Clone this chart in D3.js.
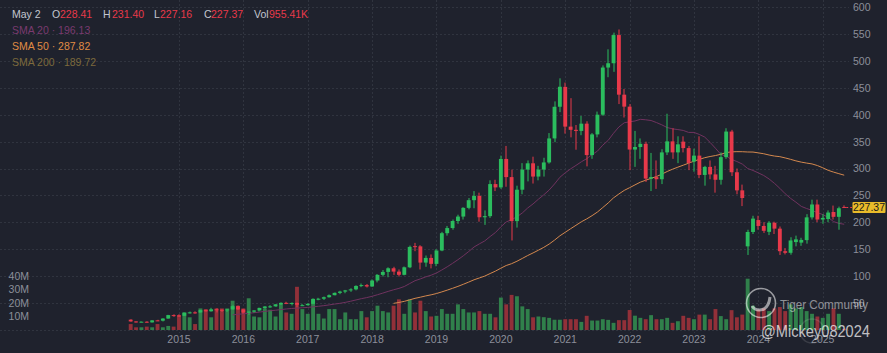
<!DOCTYPE html>
<html>
<head>
<meta charset="utf-8">
<script src="https://cdn.jsdelivr.net/npm/d3@7"></script>
<style>
  html, body { margin: 0; padding: 0; background: #1f222d; }
  svg { display: block; }
</style>
</head>
<body>
<script>
// Monthly bars, Apr 2014 .. May 2025
const open = [
  // 2014 Apr-Dec
  18.5, 15.2, 14.0, 14.7, 13.4, 17.2, 16.6, 20.6, 27.0,
  // 2015
  26.3, 25.7, 31.4, 32.1, 31.9, 36.2, 34.1, 37.8, 37.0, 35.9, 37.6, 43.6,
  // 2016
  37.6, 31.8, 33.4, 35.6, 40.3, 43.0, 43.3, 47.1, 49.8, 48.8, 49.6, 44.9,
  // 2017
  45.5, 47.9, 57.2, 57.5, 60.3, 64.1, 68.4, 70.8, 73.0, 74.9, 81.3, 82.9,
  // 2018
  80.3, 91.4, 101.9, 107.4, 114.2, 108.0, 102.0, 116.0, 155.4, 155.0, 124.8, 133.5,
  // 2019
  122.4, 147.3, 179.5, 189.1, 202.2, 210.5, 226.7, 241.0, 249.0, 209.2, 211.3, 271.0,
  // 2020
  264.8, 317.8, 284.0, 202.0, 260.5, 298.0, 309.7, 285.0, 298.0, 311.3, 356.0, 415.0,
  // 2021
  452.0, 378.0, 372.0, 370.0, 383.5, 325.0, 363.5, 400.2, 488.0, 496.0, 548.5, 437.5,
  // 2022
  415.2, 335.3, 340.0, 346.0, 281.2, 284.0, 280.0, 330.0, 350.5, 330.0, 350.0, 338.0,
  // 2023
  313.0, 324.0, 288.0, 303.0, 289.0, 279.0, 321.2, 368.8, 293.0, 259.3, 155.0, 181.8,
  // 2024
  204.0, 193.0, 182.0, 199.0, 188.0, 146.0, 143.0, 163.0, 162.0, 166.6, 209.0, 233.0,
  // 2025 Jan-May
  205.0, 206.0, 219.0, 210.0, 228.41
];

const high = [
  19.4, 15.6, 15.4, 15.6, 17.6, 18.3, 21.2, 27.5, 28.5,
  28.6, 31.9, 33.7, 34.0, 36.8, 37.1, 40.6, 39.8, 37.6, 38.4, 45.5, 44.8,
  38.2, 34.2, 36.2, 41.0, 43.8, 45.6, 47.6, 50.7, 51.9, 50.6, 50.3, 47.9,
  49.6, 58.2, 59.2, 61.6, 65.5, 69.3, 72.4, 73.9, 77.0, 82.5, 85.8, 84.9,
  93.5, 103.5, 111.0, 116.0, 117.0, 112.0, 117.5, 156.5, 161.5, 157.2, 138.0, 140.0,
  150.0, 182.0, 193.0, 205.0, 214.0, 228.0, 245.0, 258.0, 255.0, 222.0, 278.0, 279.0,
  324.0, 342.0, 298.0, 268.0, 310.0, 315.0, 322.0, 305.0, 320.0, 366.0, 425.0, 468.0,
  460.0, 431.0, 381.0, 398.0, 388.0, 366.0, 406.0, 492.0, 522.0, 553.0, 558.9, 448.0,
  420.0, 370.0, 356.0, 350.0, 329.0, 315.0, 336.0, 402.0, 375.0, 360.0, 360.0, 342.0,
  337.0, 360.0, 305.0, 315.0, 305.0, 330.0, 375.0, 372.0, 300.0, 270.0, 186.0, 212.0,
  212.0, 200.0, 202.0, 201.0, 192.0, 152.0, 172.0, 175.0, 171.0, 215.0, 242.0, 242.0,
  215.0, 222.0, 231.0, 229.0, 231.40
];

const low = [
  14.6, 13.0, 13.5, 12.9, 13.1, 15.9, 15.2, 20.1, 23.8,
  24.0, 25.3, 29.8, 29.5, 31.5, 33.5, 33.4, 32.0, 33.0, 32.9, 37.2, 36.6,
  29.4, 27.3, 31.6, 33.7, 38.6, 40.4, 42.3, 45.9, 47.4, 45.2, 41.5, 43.8,
  44.6, 47.5, 54.6, 55.2, 59.6, 63.6, 66.0, 67.7, 70.3, 73.1, 79.1, 78.4,
  79.6, 88.0, 98.7, 97.5, 101.9, 98.8, 101.0, 114.5, 146.0, 112.0, 117.0, 114.0,
  118.0, 146.0, 175.0, 186.0, 197.0, 205.0, 224.0, 226.0, 201.0, 195.0, 208.0, 258.0,
  262.0, 266.0, 166.0, 190.0, 252.0, 276.0, 272.0, 278.0, 285.0, 309.0, 349.0, 405.0,
  365.0, 358.0, 335.0, 362.0, 304.0, 318.0, 358.0, 398.0, 470.0, 480.0, 420.0, 395.0,
  297.0, 303.0, 318.0, 275.0, 258.0, 262.0, 271.0, 325.0, 318.0, 310.0, 330.0, 297.0,
  294.0, 282.0, 268.0, 280.0, 255.0, 270.0, 318.0, 286.0, 252.0, 230.0, 139.0, 178.0,
  186.0, 180.0, 176.0, 178.0, 139.0, 140.0, 139.5, 155.0, 156.0, 160.0, 205.0, 200.0,
  197.0, 200.0, 205.0, 186.0, 227.16
];

const close = [
  15.2, 14.0, 14.7, 13.4, 17.2, 16.6, 20.6, 27.0, 26.3,
  25.7, 31.4, 32.1, 31.9, 36.2, 34.1, 37.8, 37.0, 35.9, 37.6, 43.6, 37.6,
  31.8, 33.4, 35.6, 40.3, 43.0, 43.3, 47.1, 49.8, 48.8, 49.6, 46.2, 45.5,
  47.9, 57.2, 57.5, 60.3, 64.1, 68.4, 70.8, 73.0, 74.9, 81.3, 82.9, 80.3,
  91.4, 101.9, 107.4, 114.2, 108.0, 102.0, 116.0, 154.0, 155.0, 124.8, 133.5, 122.4,
  147.3, 179.5, 189.1, 202.2, 210.5, 226.7, 241.0, 249.0, 209.2, 211.3, 271.0, 264.8,
  317.8, 284.0, 202.0, 260.5, 298.0, 309.7, 285.0, 298.0, 311.3, 356.0, 415.0, 452.2,
  378.0, 372.0, 370.0, 383.5, 325.0, 363.5, 400.2, 488.0, 496.0, 548.5, 437.5, 415.2,
  335.3, 340.0, 346.0, 281.2, 284.0, 280.0, 330.0, 350.5, 330.0, 345.0, 338.0, 310.3,
  324.0, 288.0, 303.0, 289.0, 279.0, 321.2, 368.8, 293.0, 259.3, 245.0, 181.8, 206.7,
  193.0, 184.0, 199.0, 188.0, 146.0, 143.0, 166.0, 168.0, 167.0, 209.0, 233.0, 205.0,
  208.0, 218.0, 210.0, 226.0, 227.37
];

// volume in millions of shares
const volume = [
  4.4, 2.0, 2.0, 2.5, 2.0, 4.4, 2.0, 3.0, 2.5,
  11.0, 13.0, 9.4, 4.4, 16.0, 15.5, 9.4, 16.0, 16.0, 16.0, 21.7, 18.0,
  16.0, 23.5, 10.0, 9.4, 16.0, 15.0, 10.0, 19.7, 13.0, 12.0, 32.0, 15.5,
  12.0, 22.5, 12.0, 8.5, 15.5, 15.5, 8.0, 13.0, 8.0, 8.0, 14.0, 9.4,
  14.0, 18.0, 14.0, 13.0, 18.0, 22.7, 12.0, 22.7, 13.0, 21.7, 14.0, 10.0,
  10.5, 15.5, 12.0, 12.0, 19.0, 15.5, 13.0, 13.0, 14.0, 12.0, 12.0, 9.4,
  24.0, 19.0, 26.0, 25.0, 17.5, 15.5, 9.4, 10.0, 9.5, 9.0, 7.6, 7.6,
  8.0, 8.0, 8.0, 6.0, 10.5, 7.0, 7.0, 8.0, 7.5, 5.3, 7.3, 7.3,
  14.8, 10.6, 9.0, 8.0, 11.0, 8.0, 8.0, 9.0, 5.3, 6.5, 10.5, 9.0,
  8.0, 11.4, 11.4, 8.0, 15.5, 10.3, 8.0, 14.7, 9.4, 11.4, 38.0, 18.0,
  15.0, 16.0, 14.0, 16.0, 17.0, 14.0, 19.0, 16.0, 17.0, 14.0, 12.0, 10.0,
  9.0, 12.0, 16.0, 12.0, 0.96
];

const priceTicks = [50, 100, 150, 200, 250, 300, 350, 400, 450, 500, 550, 600];
const volumeTicks = [10, 20, 30, 40];
const yearTicks = [2015, 2016, 2017, 2018, 2019, 2020, 2021, 2022, 2023, 2024, 2025];

const header = { date: "May 2", vol: "955.41K" };
const smaLegend = [
  { label: "SMA 20", value: "196.13", color: "#7a3a6f", period: 20, line: "#70325f" },
  { label: "SMA 50", value: "287.82", color: "#e08c44", period: 50, line: "#d4884e" },
  { label: "SMA 200", value: "189.72", color: "#7d6a3c", period: 200, line: null }
];

const W = 887, H = 353;
const BG = "#1f222d";
const UP = "#2bbd5e", DOWN = "#e8394a";
const UP_VOL = "#30804b", DOWN_VOL = "#923039";
const AXIS_TEXT = "#8c8f9a";
const GRID = "#30343f";

const months = d3.timeMonth.range(new Date(2014, 3, 1), new Date(2025, 5, 1));
const bars = months.map((d, i) => ({
  i, date: d, o: open[i], h: high[i], l: low[i], c: close[i], v: volume[i]
}));

const svg = d3.select("body").append("svg")
  .attr("width", W).attr("height", H)
  .style("font-family", "'Liberation Sans', Arial, sans-serif");

svg.append("rect").attr("width", W).attr("height", H).attr("fill", BG);

const x = d3.scaleBand()
  .domain(bars.map(d => d.i))
  .range([128, 846.9])
  .paddingInner(0.28)
  .paddingOuter(0.14);
const cx = i => x(i) + x.bandwidth() / 2;

const y = d3.scaleLinear().domain([0, 600]).range([329.6, 7.4]);
const yv = d3.scaleLinear().domain([0, 40]).range([330, 276]);

const janIdx = yearTicks.map(yr => bars.find(b => b.date.getFullYear() === yr && b.date.getMonth() === 0).i);

// grid
const grid = svg.append("g")
  .attr("stroke", GRID).attr("stroke-width", 1).attr("stroke-dasharray", "2,2");
grid.selectAll("line.h").data([0, ...priceTicks]).join("line")
  .attr("class", "h")
  .attr("x1", 0).attr("x2", 849)
  .attr("y1", d => Math.round(y(d)) + 0.5).attr("y2", d => Math.round(y(d)) + 0.5);
grid.selectAll("line.v").data(janIdx).join("line")
  .attr("class", "v")
  .attr("x1", d => Math.round(cx(d)) + 0.5).attr("x2", d => Math.round(cx(d)) + 0.5)
  .attr("y1", 0).attr("y2", 333);

// volume
svg.append("g").selectAll("rect").data(bars).join("rect")
  .attr("x", d => x(d.i))
  .attr("width", x.bandwidth())
  .attr("y", d => yv(d.v))
  .attr("height", d => yv(0) - yv(d.v))
  .attr("fill", d => d.c >= d.o ? UP_VOL : DOWN_VOL);

// moving averages from the closes
function sma(period) {
  const out = [];
  for (let i = period - 1; i < close.length; i++) {
    out.push({ i, v: d3.mean(close.slice(i - period + 1, i + 1)) });
  }
  return out;
}
const line = d3.line().x(d => cx(d.i)).y(d => y(d.v));
smaLegend.filter(s => s.line).forEach(s => {
  const pts = sma(s.period);
  if (!pts.length) return;
  svg.append("path").datum(pts)
    .attr("fill", "none").attr("stroke", s.line).attr("stroke-width", 1)
    .attr("d", line);
});

// candles
const candles = svg.append("g").selectAll("g").data(bars).join("g");
candles.append("rect")
  .attr("x", d => Math.round(cx(d.i)) - 0.5)
  .attr("width", 1)
  .attr("y", d => y(d.h))
  .attr("height", d => Math.max(1, y(d.l) - y(d.h)))
  .attr("fill", d => d.c >= d.o ? UP : DOWN);
candles.append("rect")
  .attr("x", d => x(d.i))
  .attr("width", x.bandwidth())
  .attr("y", d => y(Math.max(d.o, d.c)))
  .attr("height", d => Math.max(1, Math.abs(y(d.o) - y(d.c))))
  .attr("fill", d => d.c >= d.o ? UP : DOWN);

// axes
const styleAxis = g => {
  g.select(".domain").remove();
  g.selectAll("text").attr("fill", AXIS_TEXT).attr("font-size", 10.5)
    .attr("font-family", "'Liberation Sans', Arial, sans-serif");
};
svg.append("g")
  .attr("transform", "translate(0,333)")
  .call(d3.axisBottom(x).tickValues(janIdx).tickFormat(i => bars[i].date.getFullYear()).tickSize(0).tickPadding(3))
  .call(styleAxis);
svg.append("g")
  .attr("transform", "translate(853,0)")
  .call(d3.axisRight(y).tickValues(priceTicks).tickSize(0).tickPadding(0))
  .call(styleAxis);
svg.append("g")
  .attr("transform", "translate(32,0)")
  .call(d3.axisLeft(yv).tickValues(volumeTicks).tickFormat(d => d + "M").tickSize(0).tickPadding(3))
  .call(styleAxis);

// last price marker
const last = bars[bars.length - 1];
const yl = y(last.c);
svg.append("line")
  .attr("x1", cx(last.i) + 2).attr("x2", 852)
  .attr("y1", yl).attr("y2", yl)
  .attr("stroke", DOWN).attr("stroke-dasharray", "2,2").attr("stroke-width", 1);
svg.append("rect")
  .attr("x", 852.5).attr("y", yl - 5.5).attr("width", 33).attr("height", 11)
  .attr("fill", "#e9bb2a").attr("rx", 1);
svg.append("text")
  .attr("x", 869).attr("y", yl).attr("dy", "0.35em")
  .attr("text-anchor", "middle").attr("font-size", 10.5).attr("fill", "#1b1b1b")
  .text(last.c.toFixed(2));

// header legend
const LEG = "#c3c6cf";
const hdr = svg.append("g").attr("font-size", 10.5);
const row1 = [
  { t: header.date, x: 12, c: LEG },
  { t: "O", x: 52, c: LEG }, { t: last.o.toFixed(2), x: 60, c: DOWN },
  { t: "H", x: 103, c: LEG }, { t: last.h.toFixed(2), x: 112, c: DOWN },
  { t: "L", x: 154, c: LEG }, { t: last.l.toFixed(2), x: 160, c: DOWN },
  { t: "C", x: 204, c: LEG }, { t: last.c.toFixed(2), x: 211, c: DOWN },
  { t: "Vol", x: 254, c: LEG }, { t: header.vol, x: 269, c: DOWN }
];
hdr.selectAll("text.r1").data(row1).join("text")
  .attr("class", "r1")
  .attr("x", d => d.x).attr("y", 18)
  .attr("fill", d => d.c).text(d => d.t);
hdr.selectAll("text.sma").data(smaLegend).join("text")
  .attr("class", "sma")
  .attr("x", 12).attr("y", (d, k) => 34 + k * 16)
  .attr("fill", d => d.color)
  .text(d => `${d.label} · ${d.value}`);

// watermark
const wm = svg.append("g").attr("pointer-events", "none");
wm.append("circle").attr("cx", 761).attr("cy", 303).attr("r", 14.5)
  .attr("fill", "none").attr("stroke", "rgba(255,255,255,0.55)").attr("stroke-width", 1.6);
wm.append("path")
  .attr("d", "M752,306 q4,6 12,3 q5,-3 6,-12")
  .attr("fill", "none").attr("stroke", "rgba(255,255,255,0.55)").attr("stroke-width", 3);
wm.append("text").attr("x", 780).attr("y", 309)
  .attr("font-size", 13).attr("fill", "rgba(255,255,255,0.5)")
  .attr("textLength", 88).attr("lengthAdjust", "spacingAndGlyphs")
  .text("Tiger Community");
wm.append("circle").attr("cx", 812).attr("cy", 331).attr("r", 12)
  .attr("fill", "none").attr("stroke", "rgba(255,255,255,0.12)").attr("stroke-width", 1.5);
wm.append("text").attr("x", 761).attr("y", 337)
  .attr("font-size", 17).attr("fill", "rgba(255,255,255,0.72)")
  .attr("textLength", 109).attr("lengthAdjust", "spacingAndGlyphs")
  .text("@Mickey082024");
</script>
</body>
</html>
